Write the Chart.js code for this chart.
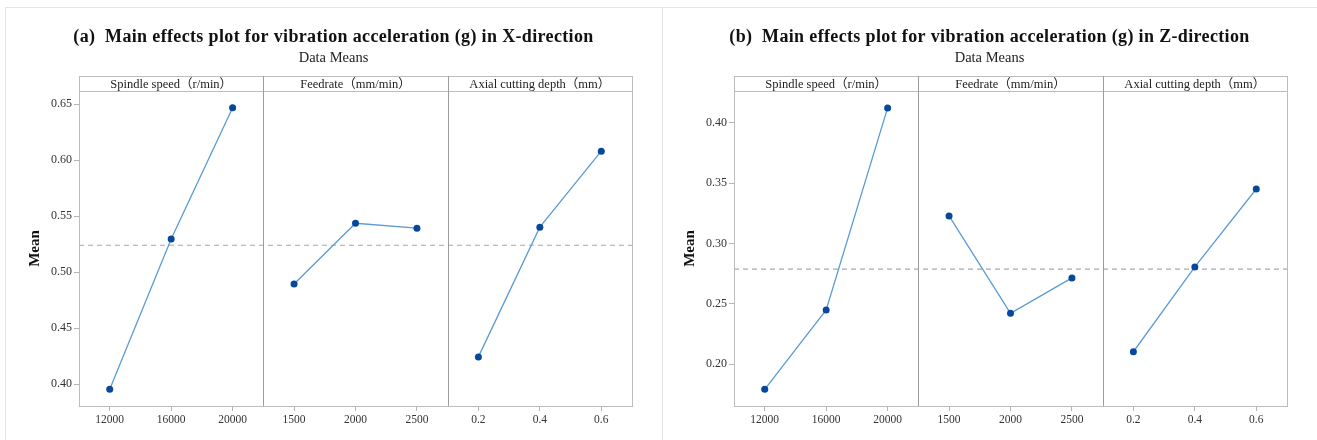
<!DOCTYPE html>
<html>
<head>
<meta charset="utf-8">
<script src="https://cdn.jsdelivr.net/npm/chart.js@4.4.1/dist/chart.umd.min.js"></script>
<style>
  body { margin: 0; background: #fff; }
  #wrap { position: relative; width: 1317px; height: 440px; overflow: hidden; }
  .frame { position: absolute; top: 7px; height: 440px; border-top: 1px solid #e4e4e4; border-left: 1px solid #e4e4e4; }
  canvas { position: absolute; top: 0; }
</style>
</head>
<body>
<div id="wrap">
  <div class="frame" style="left:5px;width:656px"></div>
  <div class="frame" style="left:662px;width:660px"></div>
  <canvas id="chartX" width="662" height="440" style="left:0"></canvas>
  <canvas id="chartZ" width="655" height="440" style="left:662px"></canvas>
</div>
<script>
// factor names shown in the header strip
const factorNames = ['Spindle speed（r/min）', 'Feedrate（mm/min）', 'Axial cutting depth（mm）'];

// factor levels (x tick labels)
const spindleLevels = ['12000', '16000', '20000'];
const feedLevels = ['1500', '2000', '2500'];
const depthLevels = ['0.2', '0.4', '0.6'];

// (a) X-direction means
const xSpindle = [0.3955, 0.5296, 0.6466];
const xFeed = [0.4895, 0.5436, 0.5392];
const xDepth = [0.4244, 0.5401, 0.6079];
const xMean = 0.524;
const xTicks = [0.40, 0.45, 0.50, 0.55, 0.60, 0.65];
const xRange = [0.3806, 0.6616];

// (b) Z-direction means
const zSpindle = [0.1793, 0.2450, 0.4122];
const zFeed = [0.3228, 0.2422, 0.2715];
const zDepth = [0.2104, 0.2806, 0.3451];
const zMean = 0.2788;
const zTicks = [0.20, 0.25, 0.30, 0.35, 0.40];
const zRange = [0.1655, 0.4262];

const SERIF = "'Liberation Serif', 'Times New Roman', 'Noto Sans CJK SC', serif";
const allLevels = [spindleLevels, feedLevels, depthLevels];
const tickLabels = allLevels.flat();

// draws titles, the header strip, plot border and panel dividers
const panelFrame = {
  id: 'panelFrame',
  afterDraw(chart, args, opts) {
    const { ctx, chartArea: a, scales: { x } } = chart;
    const stripTop = a.top - 15;
    ctx.save();

    // titles
    ctx.fillStyle = '#111';
    ctx.textAlign = 'center';
    ctx.textBaseline = 'middle';
    ctx.font = 'bold 18px ' + SERIF;
    ctx.letterSpacing = '0.35px';
    ctx.fillText(opts.title, opts.titleX, 37);
    ctx.letterSpacing = '0px';
    ctx.font = '14.5px ' + SERIF;
    ctx.fillStyle = '#222';
    ctx.fillText('Data Means', opts.titleX, 58);

    // outer box incl. header strip
    ctx.strokeStyle = '#bdbdbd';
    ctx.lineWidth = 1;
    ctx.strokeRect(Math.round(a.left) + 0.5, stripTop + 0.5, Math.round(a.right - a.left), Math.round(a.bottom) - stripTop);
    ctx.beginPath();
    ctx.moveTo(a.left, Math.round(a.top) + 0.5);
    ctx.lineTo(a.right, Math.round(a.top) + 0.5);
    ctx.stroke();

    // dividers between factors
    ctx.strokeStyle = '#9c9c9c';
    let start = 0;
    allLevels.forEach((lv, i) => {
      if (i > 0) {
        const px = Math.round(x.getPixelForValue(start - 0.5)) + 0.5;
        ctx.beginPath();
        ctx.moveTo(px, stripTop);
        ctx.lineTo(px, a.bottom);
        ctx.stroke();
      }
      // header text
      ctx.fillStyle = '#222';
      ctx.font = '12.5px ' + SERIF;
      ctx.fillText(factorNames[i], x.getPixelForValue(start + (lv.length - 1) / 2), stripTop + 8.5);
      start += lv.length;
    });
    ctx.restore();
  }
};

function makeChart(id, title, titleX, series, mean, ticks, range, axisWidth, meanPad) {
  const datasets = [];
  let start = 0;
  series.forEach((vals, i) => {
    datasets.push({
      data: vals.map((v, j) => ({ x: start + j, y: v })),
      borderColor: '#5b9bd5',
      borderWidth: 1.3,
      pointRadius: 3.5,
      pointBackgroundColor: '#08489c',
      pointBorderWidth: 0,
      tension: 0
    });
    start += vals.length;
  });
  datasets.push({
    data: [{ x: -0.5, y: mean }, { x: start - 0.5, y: mean }],
    borderColor: '#a9a9a9',
    borderWidth: 1.2,
    borderDash: [5, 4],
    pointRadius: 0
  });

  new Chart(document.getElementById(id), {
    type: 'line',
    data: { datasets },
    plugins: [panelFrame],
    options: {
      responsive: false,
      animation: false,
      layout: { padding: { top: 91, right: 30, left: 0, bottom: 0 } },
      plugins: {
        legend: { display: false },
        tooltip: { enabled: false },
        panelFrame: { title, titleX }
      },
      scales: {
        x: {
          type: 'linear',
          min: -0.5,
          max: start - 0.5,
          afterBuildTicks: s => { s.ticks = tickLabels.map((_, k) => ({ value: k })); },
          afterFit: s => { s.height = 34; },
          ticks: {
            autoSkip: false,
            maxRotation: 0,
            padding: 2,
            color: '#333',
            font: { family: SERIF, size: 11.5 },
            callback: v => tickLabels[v]
          },
          grid: { drawOnChartArea: false, tickLength: 5, color: '#b4b4b4' },
          border: { color: '#bdbdbd' }
        },
        y: {
          min: range[0],
          max: range[1],
          afterBuildTicks: s => { s.ticks = ticks.map(v => ({ value: v })); },
          afterFit: s => { s.width = axisWidth; },
          ticks: {
            padding: 2,
            color: '#333',
            font: { family: SERIF, size: 12 },
            callback: v => v.toFixed(2)
          },
          grid: { drawOnChartArea: false, tickLength: 5, color: '#b4b4b4' },
          border: { color: '#bdbdbd' },
          title: {
            display: true,
            text: 'Mean',
            color: '#111',
            padding: { top: meanPad, bottom: 0 },
            font: { family: SERIF, size: 15, weight: 'bold' }
          }
        }
      }
    }
  });
}

makeChart('chartX', '(a)  Main effects plot for vibration acceleration (g) in X-direction', 333.5,
  [xSpindle, xFeed, xDepth], xMean, xTicks, xRange, 79, 26);
makeChart('chartZ', '(b)  Main effects plot for vibration acceleration (g) in Z-direction', 327.5,
  [zSpindle, zFeed, zDepth], zMean, zTicks, zRange, 72, 19);
</script>
</body>
</html>
